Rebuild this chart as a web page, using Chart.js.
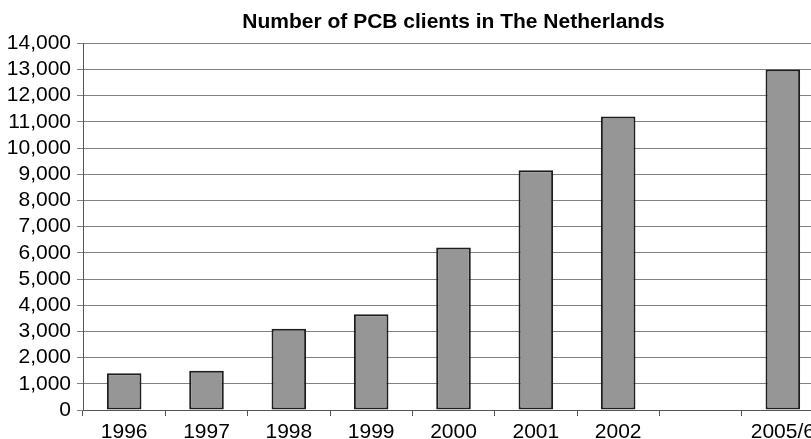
<!DOCTYPE html>
<html>
<head>
<meta charset="utf-8">
<script src="https://cdn.jsdelivr.net/npm/chart.js@4/dist/chart.umd.min.js"></script>
<style>
html,body{margin:0;padding:0;overflow:hidden;background:#fff;}
#wrap{position:absolute;left:0;top:0;width:826px;height:439px;}
</style>
</head>
<body>
<div id="wrap"><canvas id="c" width="826" height="439"></canvas></div>
<script>
const categories = ['1996','1997','1998','1999','2000','2001','2002','','2005/6'];
const clients = [1400, 1500, 3100, 3650, 6200, 9150, 11200, null, 13000];
const yTicks = [0,1000,2000,3000,4000,5000,6000,7000,8000,9000,10000,11000,12000,13000,14000];
const titleText = 'Number of PCB clients in The Netherlands';

const FONT = '"Liberation Sans", Arial, Helvetica, sans-serif';

new Chart(document.getElementById('c'), {
  type: 'bar',
  data: {
    labels: categories,
    datasets: [{
      data: clients,
      backgroundColor: '#969696',
      borderColor: '#1e1e1e',
      borderWidth: 2,
      borderSkipped: false,
      categoryPercentage: 1,
      barPercentage: 0.42
    }]
  },
  options: {
    responsive: false,
    animation: false,
    devicePixelRatio: 1,
    layout: { padding: { left: 0, right: 2, top: 0, bottom: 0 } },
    plugins: {
      legend: { display: false },
      tooltip: { enabled: false },
      title: {
        display: true,
        text: titleText,
        fullSize: false,
        color: '#000',
        font: { family: FONT, size: 21, weight: 'bold', lineHeight: 1.2 },
        padding: { top: 10, bottom: 8 }
      }
    },
    scales: {
      x: {
        grid: { offset: true, drawOnChartArea: false, color: '#555', tickLength: 6, lineWidth: 1 },
        border: { color: '#555', width: 1 },
        ticks: { color: '#000', font: { family: FONT, size: 21 }, padding: 4, maxRotation: 0, autoSkip: false },
        afterFit: s => { s.height = 29; }
      },
      y: {
        min: 0, max: 14000,
        afterBuildTicks: s => { s.ticks = yTicks.map(v => ({ value: v })); },
        grid: { color: '#808080', tickLength: 6, lineWidth: 1 },
        border: { color: '#555', width: 1 },
        ticks: {
          color: '#000',
          autoSkip: false,
          font: { family: FONT, size: 21 },
          padding: 6,
          callback: v => v.toLocaleString('en-US')
        },
        afterFit: s => { s.width = 83; }
      }
    }
  }
});
</script>
</body>
</html>
